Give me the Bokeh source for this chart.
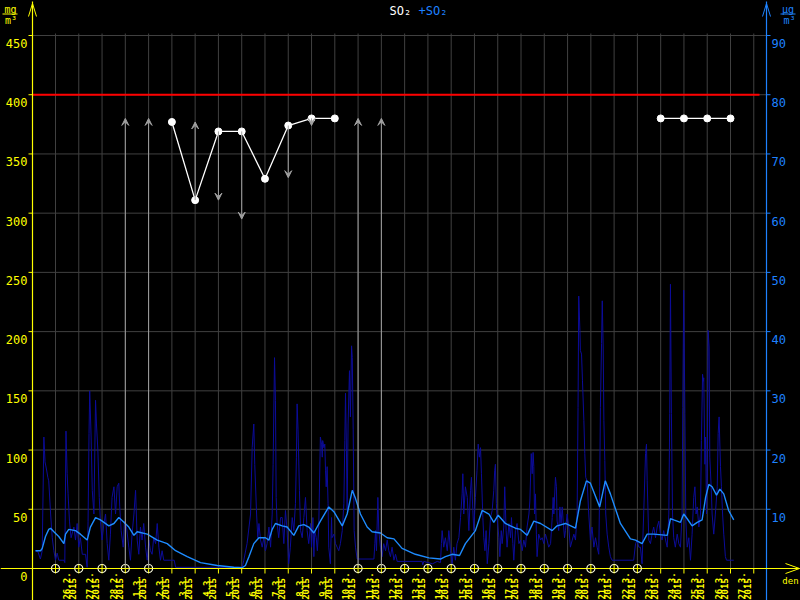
from math import pi
from bokeh.plotting import figure
from bokeh.models import ColumnDataSource, Range1d, Arrow, VeeHead
from bokeh.core.properties import value
from bokeh.embed import file_html
from bokeh.resources import INLINE

try:
    from bokeh.models import GlobalInlineStyleSheet
except ImportError:
    GlobalInlineStyleSheet = None

# ---------------- data ----------------
DATES = ["26.2.", "27.2.", "28.2.", "1.3.", "2.3.", "3.3.", "4.3.", "5.3.", "6.3.", "7.3.",
         "8.3.", "9.3.", "10.3.", "11.3.", "12.3.", "13.3.", "14.3.", "15.3.", "16.3.", "17.3.",
         "18.3.", "19.3.", "20.3.", "21.3.", "22.3.", "23.3.", "24.3.", "25.3.", "26.3.", "27.3."]
YEAR = "2015"
LEFT_TICKS = [0, 50, 100, 150, 200, 250, 300, 350, 400, 450]
RIGHT_TICKS = [10, 20, 30, 40, 50, 60, 70, 80, 90]
RIGHT_FACTOR = 5          # left value = right value * 5
LIMIT = 400

# daily values (white)
DAILY_DAY_A = [5, 6, 7, 8, 9, 10, 11, 12]
DAILY_VAL_A = [377, 311, 369, 369, 329, 374, 380, 380]
DAILY_DAY_B = [26, 27, 28, 29]
DAILY_VAL_B = [380, 380, 380, 380]

# days without daily value (circle markers on the time axis)
MISSING_DAYS = [0, 1, 2, 3, 4, 13, 14, 15, 16, 17, 18, 19, 20, 21, 22, 23, 24, 25]

# grey arrows
ARROW_DAY = [3, 4, 6, 7, 8, 10, 11, 13, 14]
ARROW_FROM = [0, 0, 311, 369, 369, 374, 380, 0, 0]
ARROW_TO = [380, 380, 377, 311, 295, 330, 374, 380, 380]

# hourly values (dark blue), day offset from 26.2.2015
HOURLY_DAY_A = [-0.86, -0.75, -0.65, -0.57, -0.50, -0.45, -0.39, -0.33, -0.29, -0.21,
                -0.14, -0.07, 0.0, 0.07, 0.14, 0.36, 0.40, 0.45, 0.50, 0.54,
                0.60, 0.67, 0.79, 0.86, 0.93, 1.0, 1.07, 1.15, 1.29, 1.36,
                1.40, 1.44, 1.47, 1.53, 1.58, 1.65, 1.72, 1.76, 1.82, 1.88,
                1.93, 2.00, 2.08, 2.15, 2.22, 2.29, 2.36, 2.43, 2.51, 2.58,
                2.65, 2.72, 2.76, 2.82, 2.91, 2.96, 3.05, 3.15, 3.22, 3.29,
                3.37, 3.44, 3.51, 3.58, 3.65, 3.72, 3.79, 3.87, 3.94, 4.01,
                4.08, 4.15, 4.22, 4.30, 4.37, 4.44, 4.51, 4.58, 4.65, 5.10,
                5.16, 8.02, 8.09, 8.23, 8.38, 8.45, 8.52, 8.56, 8.64, 8.69,
                8.74, 8.81, 8.88, 8.95, 9.02, 9.09, 9.17, 9.24, 9.31, 9.35,
                9.41, 9.45, 9.48]
HOURLY_VAL_A = [15, 14, 8, 15, 111, 90, 84, 77, 74, 46,
                26, 15, 7, 13, 7, 7, 5, 116, 80, 63,
                40, 26, 35, 24, 38, 18, 26, 12, 12, 1,
                40, 114, 150, 111, 66, 46, 142, 122, 100, 60,
                40, 24, 38, 46, 21, 7, 29, 60, 69, 46,
                69, 72, 52, 32, 18, 40, 35, 18, 7, 29,
                46, 66, 24, 12, 35, 24, 38, 18, 7, 24,
                15, 12, 26, 21, 38, 18, 7, 15, 7, 7,
                1, 1, 7, 21, 46, 102, 122, 88, 46, 26,
                38, 24, 18, 26, 15, 21, 35, 18, 46, 88,
                178, 142, 60]
HOURLY_DAY_B = [9.52, 9.59, 9.67, 9.74, 9.81, 9.88, 9.95, 10.02, 10.09, 10.17,
                10.24, 10.31, 10.35, 10.38, 10.42, 10.48, 10.53, 10.60, 10.67, 10.74,
                10.81, 10.88, 10.96, 11.0, 11.06, 11.10, 11.14, 11.20, 11.25, 11.31,
                11.38, 11.43, 11.46, 11.48, 11.53, 11.57, 11.60, 11.63, 11.67, 11.71,
                11.74, 11.81, 11.86, 11.88, 11.96, 12.03, 12.10, 12.17, 12.24, 12.32,
                12.39, 12.43, 12.46, 12.50, 12.53, 12.57, 12.63, 12.67, 12.72, 12.75,
                12.79, 12.83, 12.89, 12.96, 13.68, 13.72, 13.75, 13.79, 13.85, 13.89,
                13.96, 14.03, 14.10, 14.18, 14.25, 14.32, 14.39, 14.46, 14.54, 14.61,
                14.68, 15.75, 15.78, 15.82, 16.0, 16.2, 16.4, 16.54, 16.58, 16.61,
                16.68, 16.75, 16.83, 16.90, 16.97, 17.04, 17.11, 17.18, 17.25, 17.33,
                17.40, 17.47, 17.50, 17.54, 17.61, 17.69, 17.76, 17.83, 17.87, 17.93,
                17.97, 18.04, 18.11, 18.16, 18.21, 18.26, 18.30, 18.36, 18.40, 18.45,
                18.50, 18.55, 18.62, 18.69, 18.76, 18.83, 18.87, 18.90, 18.94, 18.97,
                19.05, 19.09, 19.15, 19.19, 19.26, 19.30, 19.36, 19.40, 19.48, 19.55,
                19.59, 19.65, 19.69, 19.76, 19.83, 19.91, 19.98]
HOURLY_VAL_B = [38, 26, 43, 43, 21, 49, 32, 4, 18, 43,
                32, 55, 94, 139, 117, 66, 32, 26, 43, 60,
                32, 21, 38, 18, 43, 10, 32, 26, 15, 35,
                111, 105, 94, 108, 102, 105, 83, 69, 86, 55,
                18, 4, 43, 26, 29, 21, 18, 15, 21, 32,
                55, 108, 148, 100, 49, 122, 167, 128, 188, 178,
                117, 32, 18, 8, 8, 21, 32, 15, 60, 32,
                18, 10, 21, 15, 24, 15, 10, 18, 7, 12,
                6, 6, 3, 6, 5, 4, 6, 5, 21, 32,
                18, 26, 15, 32, 15, 4, 18, 7, 21, 26,
                43, 63, 80, 46, 69, 60, 32, 66, 77, 49,
                32, 60, 83, 105, 94, 102, 80, 43, 26, 15,
                32, 4, 21, 43, 49, 66, 83, 88, 55, 43,
                26, 10, 32, 21, 35, 69, 32, 18, 38, 26,
                43, 21, 7, 32, 38, 21, 24]
HOURLY_DAY_C = [20.05, 20.12, 20.19, 20.26, 20.34, 20.38, 20.44, 20.48, 20.52, 20.55,
                20.58, 20.62, 20.66, 20.69, 20.76, 20.84, 20.91, 20.98, 21.05, 21.12,
                21.19, 21.27, 21.34, 21.38, 21.41, 21.48, 21.52, 21.55, 21.62, 21.67,
                21.72, 21.77, 21.81, 21.87, 21.91, 21.98, 22.05, 22.12, 22.20, 22.27,
                22.34, 22.41, 22.45, 22.48, 22.53, 22.55, 22.60, 22.64, 22.70, 22.74,
                22.78, 22.84, 22.91, 22.98, 23.01, 23.05, 23.13, 23.20, 23.27, 23.34,
                23.38, 23.41, 23.46, 23.49, 23.53, 23.56, 23.60, 23.64, 23.70, 23.77,
                23.84, 23.91, 24.84, 24.92, 24.99, 25.06, 25.13, 25.20, 25.27, 25.35,
                25.39, 25.42, 25.49, 25.56, 25.63, 25.70, 25.78, 25.85, 25.92, 25.99,
                26.06, 26.13, 26.21, 26.28, 26.35, 26.39, 26.42, 26.46, 26.51, 26.56,
                26.63, 26.71, 26.78, 26.85, 26.92, 26.95, 26.99, 27.04, 27.08, 27.14,
                27.21, 27.28, 27.35, 27.42, 27.47, 27.52, 27.57, 27.64, 27.71, 27.75,
                27.80, 27.83, 27.85, 27.90, 27.93, 27.97, 28.0, 28.04, 28.08, 28.11,
                28.17, 28.21, 28.28, 28.35, 28.43, 28.47, 28.51, 28.57, 28.61, 28.66,
                28.71, 28.78, 28.83, 29.14]
HOURLY_VAL_C = [15, 24, 18, 35, 46, 57, 97, 80, 98, 86,
                46, 63, 29, 10, 29, 24, 26, 21, 29, 24,
                18, 21, 43, 60, 46, 77, 69, 40, 32, 52,
                38, 52, 40, 26, 32, 46, 35, 18, 24, 29,
                24, 46, 136, 230, 201, 184, 181, 159, 125, 97,
                77, 74, 46, 24, 29, 35, 18, 26, 18, 12,
                69, 136, 190, 226, 187, 125, 91, 46, 29, 18,
                10, 7, 7, 21, 24, 18, 18, 4, 46, 97,
                105, 74, 24, 21, 29, 35, 26, 35, 40, 29,
                24, 32, 24, 18, 46, 131, 240, 131, 46, 26,
                18, 29, 21, 18, 46, 136, 235, 131, 40, 18,
                26, 7, 29, 60, 69, 46, 52, 35, 46, 108,
                164, 158, 161, 88, 111, 46, 74, 201, 187, 94,
                69, 46, 29, 46, 69, 114, 128, 86, 69, 46,
                29, 10, 7, 7]

# moving average (light blue)
AVG_DAY = [-0.86, -0.64, -0.57, -0.43, -0.29, -0.21, -0.07, 0.14, 0.36, 0.43,
           0.57, 0.86, 1.07, 1.36, 1.5, 1.72, 1.93, 2.29, 2.51, 2.72,
           2.94, 3.15, 3.37, 3.51, 3.94, 4.37, 4.65, 4.80, 5.16, 5.66,
           6.23, 6.95, 7.66, 8.02, 8.16, 8.31, 8.52, 8.74, 9.02, 9.17,
           9.31, 9.45, 9.74, 9.95, 10.24, 10.45, 10.67, 10.88, 11.1, 11.38,
           11.74, 11.96, 12.32, 12.53, 12.75, 12.89, 13.1, 13.39, 13.6, 13.96,
           14.25, 14.54, 14.89, 15.46, 16.04, 16.54, 16.75, 17.04, 17.36, 17.61,
           18.04, 18.33, 18.62, 18.83, 19.02, 19.33, 19.76, 19.98, 20.26, 20.55,
           20.84, 21.34, 21.55, 21.91, 22.34, 22.55, 22.81, 22.98, 23.38, 23.62,
           23.84, 24.27, 24.70, 24.92, 25.2, 25.42, 25.70, 26.28, 26.42, 26.56,
           26.85, 26.99, 27.14, 27.35, 27.57, 27.78, 27.93, 28.07, 28.21, 28.40,
           28.54, 28.71, 28.92, 29.14]
AVG_VAL = [15, 15, 17, 27, 33, 34, 31, 27, 21, 29,
           33, 32, 29, 24, 35, 43, 41, 36, 38, 43,
           39, 35, 28, 31, 29, 24, 22, 21, 15, 10,
           5, 2.5, 1, 0.6, 2.5, 10, 21, 26, 26, 24,
           33, 38, 36, 35, 28, 36, 37, 35, 30, 40,
           52, 48, 36, 46, 66, 59, 46, 35, 31, 30,
           26, 25, 17, 12, 9, 8, 10, 12, 11, 21,
           32, 49, 46, 39, 45, 38, 34, 33, 28, 40,
           38, 32, 36, 38, 34, 57, 74, 72, 52, 74,
           63, 38, 25, 24, 21, 29, 29, 28, 42, 41,
           39, 46, 42, 36, 39, 41, 60, 71, 69, 62,
           67, 63, 49, 41]

# ---------------- layout (page pixels -> data) ----------------
W, H = 800, 600
PX_PER_DAY = 23.276
PX_PER_UNIT = 1.18444
DAY0_X = 55
ZERO_Y = 568


def dx(px):
    return (px - DAY0_X) / PX_PER_DAY


def vy(py):
    return (ZERO_Y - py) / PX_PER_UNIT


YELLOW = "#ffff00"
BLUE = "#1e82ff"
LIGHT = "#1e8cff"
NAVY = "#0c0c9a"
GRID = "#404040"
GRAY = "#a0a0a0"
RED = "#ff0000"
MONO = value("DejaVu Sans Mono")

p = figure(width=W, height=H,
           x_range=Range1d(dx(0), dx(W)), y_range=Range1d(vy(H), vy(0)),
           x_axis_type=None, y_axis_type=None, toolbar_location=None,
           output_backend="svg", min_border=0, title=None,
           background_fill_color="#000000", border_fill_color="#000000",
           outline_line_color=None)

tick_days = list(range(len(DATES) + 1))
n_t = len(tick_days)

# grid
p.segment(x0=tick_days, y0=[0] * n_t, x1=tick_days, y1=[vy(33)] * n_t,
          line_color=GRID, line_width=1)
grid_vals = LEFT_TICKS[1:]
p.segment(x0=[dx(32)] * len(grid_vals), y0=grid_vals,
          x1=[dx(766)] * len(grid_vals), y1=grid_vals, line_color=GRID, line_width=1)

# limit
p.segment(x0=[dx(32)], y0=[LIMIT], x1=[dx(759)], y1=[LIMIT], line_color=RED, line_width=2)

# hourly + moving average
hourly_day = HOURLY_DAY_A + HOURLY_DAY_B + HOURLY_DAY_C
hourly_val = HOURLY_VAL_A + HOURLY_VAL_B + HOURLY_VAL_C
p.line(hourly_day, hourly_val, line_color=NAVY, line_width=1)
p.line(AVG_DAY, AVG_VAL, line_color=LIGHT, line_width=1.4)

# grey arrows
asrc = ColumnDataSource(dict(x=ARROW_DAY, y0=ARROW_FROM, y1=ARROW_TO))
p.add_layout(Arrow(end=VeeHead(size=7, fill_color=GRAY, line_color=GRAY),
                   x_start="x", y_start="y0", x_end="x", y_end="y1",
                   line_color=GRAY, line_width=1, source=asrc))

# daily values
for dd, vv in ((DAILY_DAY_A, DAILY_VAL_A), (DAILY_DAY_B, DAILY_VAL_B)):
    p.line(dd, vv, line_color="#ffffff", line_width=1.3)
    p.scatter(dd, vv, marker="circle", size=7, fill_color="#ffffff", line_color="#ffffff")

# axes
lx, rx = dx(32), dx(766)
p.segment(x0=[lx], y0=[vy(H)], x1=[lx], y1=[vy(1)], line_color=YELLOW, line_width=1.2)
p.segment(x0=[lx, lx], y0=[vy(3), vy(3)], x1=[dx(28), dx(36)], y1=[vy(16), vy(16)],
          line_color=YELLOW, line_width=1)
p.segment(x0=[rx], y0=[vy(H)], x1=[rx], y1=[vy(1)], line_color=BLUE, line_width=1.2)
p.segment(x0=[rx, rx], y0=[vy(3), vy(3)], x1=[dx(762), dx(770)], y1=[vy(16), vy(16)],
          line_color=BLUE, line_width=1)
p.segment(x0=[dx(28)] * len(LEFT_TICKS), y0=LEFT_TICKS, x1=[lx] * len(LEFT_TICKS),
          y1=LEFT_TICKS, line_color=YELLOW, line_width=1)
rvals = [t * RIGHT_FACTOR for t in RIGHT_TICKS]
p.segment(x0=[rx] * len(rvals), y0=rvals, x1=[dx(770)] * len(rvals), y1=rvals,
          line_color=BLUE, line_width=1)
p.segment(x0=[dx(0)], y0=[0], x1=[dx(799)], y1=[0], line_color=YELLOW, line_width=1.2)
p.segment(x0=tick_days, y0=[0] * n_t, x1=tick_days, y1=[vy(573)] * n_t,
          line_color=YELLOW, line_width=1)
p.segment(x0=[dx(799), dx(799)], y0=[0, 0], x1=[dx(785), dx(785)], y1=[vy(563), vy(573)],
          line_color=YELLOW, line_width=1)

# missing-day markers
p.scatter(MISSING_DAYS, [0] * len(MISSING_DAYS), marker="circle", size=8,
          fill_color="#000000", line_color="#ffffe0", line_width=1.2)
p.scatter(MISSING_DAYS, [0] * len(MISSING_DAYS), marker="cross", size=8,
          line_color=YELLOW, line_width=1)

# tick labels
off = 8 / PX_PER_UNIT
p.text(x=[dx(27)] * len(LEFT_TICKS), y=[t - off for t in LEFT_TICKS],
       text=[str(t) for t in LEFT_TICKS], text_align="right", text_baseline="middle",
       text_color=YELLOW, text_font=MONO, text_font_size="12px")
p.text(x=[dx(771)] * len(RIGHT_TICKS), y=[t * RIGHT_FACTOR - off for t in RIGHT_TICKS],
       text=[str(t) for t in RIGHT_TICKS], text_align="left", text_baseline="middle",
       text_color=BLUE, text_font=MONO, text_font_size="12px")

label_days = list(range(len(DATES)))
p.text(x=[d + 11 / PX_PER_DAY for d in label_days], y=[vy(585.5)] * len(DATES), text=DATES,
       angle=pi / 2, text_align="center", text_baseline="middle", text_color=YELLOW,
       text_font=MONO, text_font_size="9px", text_font_style="bold")
p.text(x=[d + 17 / PX_PER_DAY for d in label_days], y=[vy(588.5)] * len(DATES),
       text=[YEAR] * len(DATES), angle=pi / 2, text_align="center", text_baseline="middle",
       text_color=YELLOW, text_font=MONO, text_font_size="9px", text_font_style="bold")

# title
p.text(x=[dx(389)], y=[vy(10)], text=["SO₂"], text_align="left", text_baseline="middle",
       text_color="#ffffff", text_font=MONO, text_font_size="12px")
p.text(x=[dx(418)], y=[vy(10)], text=["+SO₂"], text_align="left", text_baseline="middle",
       text_color=BLUE, text_font=MONO, text_font_size="12px")

# units
p.text(x=[dx(10)], y=[vy(9)], text=["mg"], text_align="center", text_baseline="middle",
       text_color=YELLOW, text_font=MONO, text_font_size="10px")
p.segment(x0=[dx(2)], y0=[vy(13.5)], x1=[dx(17)], y1=[vy(13.5)], line_color=YELLOW, line_width=1)
p.text(x=[dx(10.5)], y=[vy(20)], text=["m³"], text_align="center", text_baseline="middle",
       text_color=YELLOW, text_font=MONO, text_font_size="10px")
p.text(x=[dx(787.5)], y=[vy(9)], text=["µg"], text_align="center", text_baseline="middle",
       text_color=BLUE, text_font=MONO, text_font_size="10px")
p.segment(x0=[dx(780)], y0=[vy(13.5)], x1=[dx(795)], y1=[vy(13.5)], line_color=BLUE, line_width=1)
p.text(x=[dx(789)], y=[vy(20)], text=["m³"], text_align="center", text_baseline="middle",
       text_color=BLUE, text_font=MONO, text_font_size="10px")
p.text(x=[dx(790)], y=[vy(580)], text=["den"], text_align="center", text_baseline="middle",
       text_color=YELLOW, text_font=MONO, text_font_size="9px")

if GlobalInlineStyleSheet is not None:
    p.stylesheets = [GlobalInlineStyleSheet(css="html, body { background: #000000; }")]

open("out.html", "w").write(file_html(p, INLINE))
